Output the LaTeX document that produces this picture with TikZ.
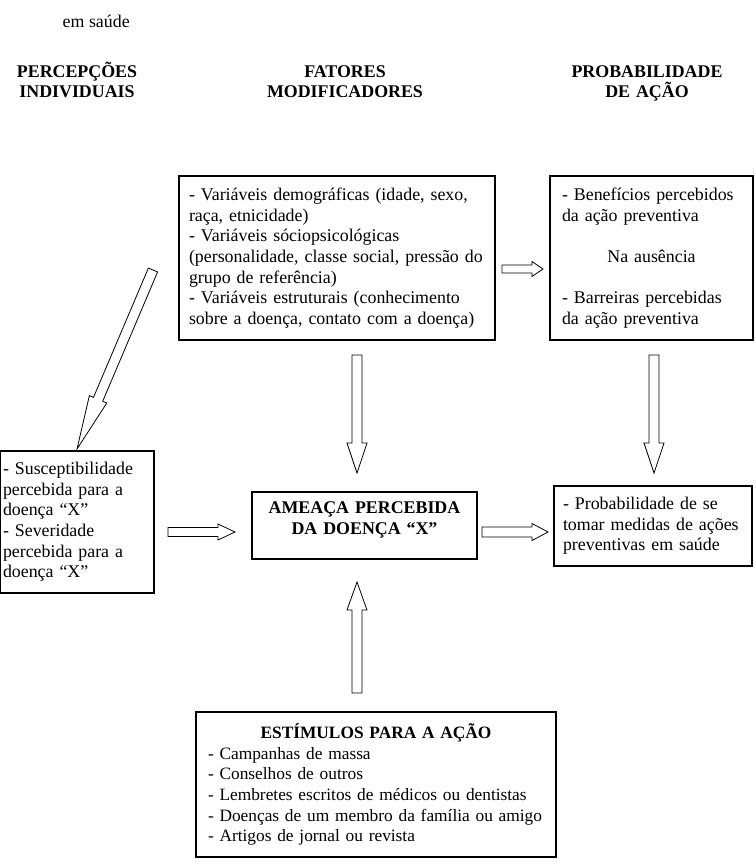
\documentclass[tikz,border=0pt]{standalone}
\usepackage{fontspec}
\setmainfont{Liberation Serif}
\usetikzlibrary{calc,positioning}

% hollow block arrow: from, to, half shaft, half head, head length
\newcommand{\blockarrow}[5]{%
  \coordinate (ba) at ($(#2)!#5!(#1)$);
  \draw[arrowline] ($(#1)!#3!90:(#2)$) -- ($(ba)!#3!-90:(#1)$) -- ($(ba)!#4!-90:(#1)$)
    -- (#2) -- ($(ba)!#4!90:(#1)$) -- ($(ba)!#3!90:(#1)$) -- ($(#1)!#3!-90:(#2)$) -- cycle;
}

\begin{document}
\begin{tikzpicture}[x=0.75pt, y=-0.75pt,
    font=\fontsize{13.4}{15.5}\selectfont,
    box/.style={draw, line width=0.9pt, inner ysep=0pt, align=left},
    arrowline/.style={line width=0.6pt, fill=white, line join=miter},
    head/.style={font=\fontsize{13.4}{15.5}\selectfont\bfseries, align=center,
        text width=160pt, anchor=base}]

    \useasboundingbox (0,0) rectangle (756,868);

    % Headers
    \node[anchor=base west] (topo) at (58,27) {em saúde};
    \node[head] (percep) at (77,77) {PERCEPÇÕES\\INDIVIDUAIS};
    \node[head] (fatores) at (345,77) {FATORES\\MODIFICADORES};
    \node[head] (probab) at (647,77) {PROBABILIDADE\\DE AÇÃO};

    % Boxes
    \node[box, text width=222pt, inner xsep=7.5pt, minimum height=123pt] (modif) at (337,258)
        {- Variáveis demográficas (idade, sexo,\\ raça, etnicidade)\\ - Variáveis sóciopsicológicas\\
         (personalidade, classe social, pressão do\\ grupo de referência)\\
         - Variáveis estruturais (conhecimento\\ sobre a doença, contato com a doença)};
    \node[box, text width=134.25pt, inner xsep=9pt, minimum height=123pt] (benef) at (651.5,258)
        {- Benefícios percebidos\\ da ação preventiva\\[15.5pt]
         \leavevmode\hfill Na ausência\hfill\null\\[15.5pt]
         - Barreiras percebidas\\ da ação preventiva};
    \node[box, text width=111pt, inner xsep=2.25pt, minimum height=106.5pt] (suscet) at (77,522)
        {- Susceptibilidade\\ percebida para a\\ doença “X”\\ - Severidade\\ percebida para a\\ doença “X”};
    \node[box, text width=152.25pt, inner xsep=8.25pt, minimum height=50.25pt, align=center,
        font=\fontsize{13.4}{15.5}\selectfont\bfseries] (ameaca) at (364.5,525.5)
        {AMEAÇA PERCEBIDA\\DA DOENÇA “X”\\[-4pt]\mbox{}};
    \node[box, text width=262pt, inner xsep=4pt, minimum height=108.75pt,
        font=\fontsize{13}{15.5}\selectfont] (estimulos) at (376,784.5)
        {\leavevmode\hfill\textbf{ESTÍMULOS PARA A AÇÃO}\hfill\null\\
         \hspace*{5pt}- Campanhas de massa\\ \hspace*{5pt}- Conselhos de outros\\
         \hspace*{5pt}- Lembretes escritos de médicos ou dentistas\\
         \hspace*{5pt}- Doenças de um membro da família ou amigo\\
         \hspace*{5pt}- Artigos de jornal ou revista};
    \node[box, text width=135pt, inner xsep=6.75pt, minimum height=60pt] (acao) at (653,526)
        {- Probabilidade de se\\ tomar medidas de ações\\ preventivas em saúde};

    % Arrow ends
    \coordinate (diagA) at (153,270);
    \coordinate (diagB) at (77,449);
    \coordinate (modifR) at (502,269);
    \coordinate (benefL) at (543,269);
    \coordinate (modifB) at (357,355);
    \coordinate (ameacaT) at (357,473);
    \coordinate (benefB) at (654,355);
    \coordinate (acaoT) at (654,473);
    \coordinate (estimT) at (357,693);
    \coordinate (ameacaB) at (357,582);
    \coordinate (suscetR) at (168,532);
    \coordinate (ameacaL) at (235,532);
    \coordinate (ameacaR) at (482,532);
    \coordinate (acaoL) at (548,532);

    % Block arrows
    \blockarrow{diagA}{diagB}{3.75pt}{7.1pt}{40.5pt}
    \blockarrow{modifR}{benefL}{3pt}{5.6pt}{8.25pt}
    \blockarrow{modifB}{ameacaT}{3.75pt}{7.5pt}{22.5pt}
    \blockarrow{benefB}{acaoT}{3.75pt}{7.5pt}{22.5pt}
    \blockarrow{estimT}{ameacaB}{3.75pt}{7.5pt}{21pt}
    \blockarrow{suscetR}{ameacaL}{3.4pt}{6pt}{12.75pt}
    \blockarrow{ameacaR}{acaoL}{3.75pt}{6.4pt}{12pt}
\end{tikzpicture}
\end{document}
